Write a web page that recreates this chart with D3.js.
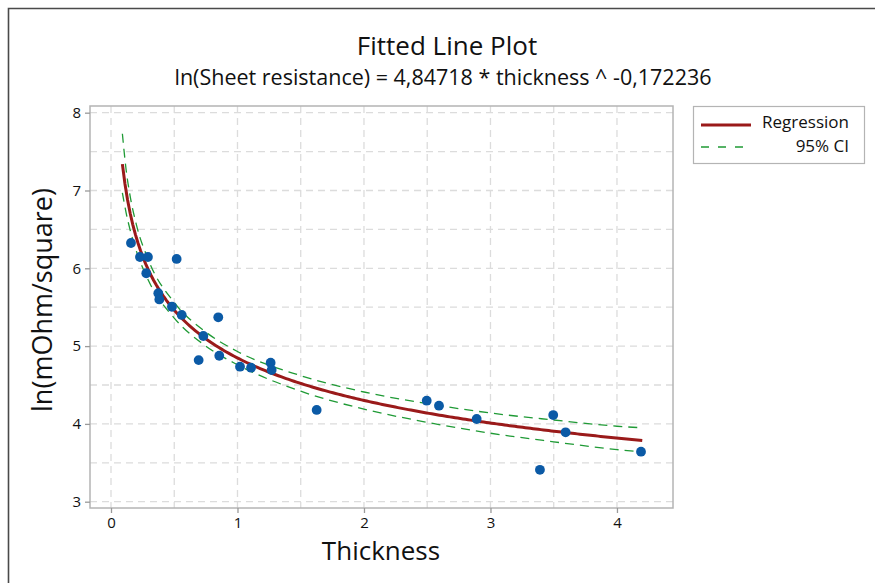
<!DOCTYPE html>
<html>
<head>
<meta charset="utf-8">
<script src="https://cdn.jsdelivr.net/npm/d3@7"></script>
<style>
  html, body { margin: 0; padding: 0; background: #fff; }
  svg { display: block; }
  text { font-family: "Open Sans", "Noto Sans", sans-serif; fill: #111; }
</style>
</head>
<body>
<svg id="chart" width="875" height="583"></svg>
<script>
// Observed thickness / ln(sheet resistance) pairs
const thickness = [0.158, 0.229, 0.292, 0.279, 0.519, 0.374, 0.382, 0.482, 0.559, 0.848,
                   0.730, 0.693, 0.856, 1.020, 1.107, 1.262, 1.270, 1.626, 2.496, 2.593,
                   2.891, 3.391, 3.496, 3.594, 4.190];
const lnResistance = [6.325, 6.145, 6.145, 5.936, 6.120, 5.679, 5.600, 5.506, 5.400, 5.370,
                      5.130, 4.820, 4.876, 4.735, 4.722, 4.787, 4.693, 4.179, 4.298, 4.234,
                      4.063, 3.410, 4.114, 3.892, 3.643];

// Fitted power model: y = a * x ^ b
const fitA = 4.84718;
const fitB = -0.172236;
const fitRange = [0.09, 4.2];

// 95% confidence band of the fit
const ciX     = [0.09, 0.12, 0.15, 0.20, 0.30, 0.50, 0.75, 1.00, 1.50, 2.00, 2.50, 3.00, 3.50, 4.00, 4.20];
const ciUpper = [7.73, 7.26, 6.94, 6.565, 6.09, 5.56, 5.18, 4.93, 4.62, 4.41, 4.26, 4.14, 4.05, 3.97, 3.95];
const ciLower = [6.97, 6.71, 6.50, 6.225, 5.83, 5.36, 5.00, 4.76, 4.42, 4.19, 4.02, 3.88, 3.77, 3.67, 3.64];

const xTicks = [0, 1, 2, 3, 4];
const yTicks = [3, 4, 5, 6, 7, 8];
const xGrid = [0, 0.5, 1, 1.5, 2, 2.5, 3, 3.5, 4];
const yGrid = [3, 3.5, 4, 4.5, 5, 5.5, 6, 6.5, 7, 7.5, 8];

const titleText = "Fitted Line Plot";
const subtitleText = "ln(Sheet resistance) = 4,84718 * thickness ^ -0,172236";
const xLabel = "Thickness";
const yLabel = "ln(mOhm/square)";
const legendItems = ["Regression", "95% CI"];

const svg = d3.select("#chart");
const plot = { left: 90, top: 106, right: 673, bottom: 508 };

const x = d3.scaleLinear().domain([-0.166, 4.443]).range([plot.left, plot.right]);
const y = d3.scaleLinear().domain([2.919, 8.086]).range([plot.bottom, plot.top]);

// Outer frame (top and left edges)
svg.append("path")
  .attr("d", "M8.5,583 L8.5,8.5 L875,8.5")
  .attr("fill", "none").attr("stroke", "#4a4a4a").attr("stroke-width", 1.6);

// Titles
svg.append("text").attr("x", 447).attr("y", 55).attr("text-anchor", "middle")
  .attr("font-size", 26).text(titleText);
svg.append("text").attr("x", 443).attr("y", 85).attr("text-anchor", "middle")
  .attr("font-size", 21.5).text(subtitleText);

// Grid
const grid = svg.append("g").attr("stroke", "#dcdcdc").attr("stroke-width", 1.3)
  .attr("stroke-dasharray", "7,5");
grid.selectAll(".gx").data(xGrid).join("line")
  .attr("x1", d => x(d)).attr("x2", d => x(d))
  .attr("y1", plot.top).attr("y2", plot.bottom);
grid.selectAll(".gy").data(yGrid).join("line")
  .attr("y1", d => y(d)).attr("y2", d => y(d))
  .attr("x1", plot.left).attr("x2", plot.right);

// Plot frame
svg.append("rect")
  .attr("x", plot.left).attr("y", plot.top)
  .attr("width", plot.right - plot.left).attr("height", plot.bottom - plot.top)
  .attr("fill", "none").attr("stroke", "#b4b4b4").attr("stroke-width", 1.5);

// Axes
const xAxis = svg.append("g").attr("transform", `translate(0,${plot.bottom})`)
  .call(d3.axisBottom(x).tickValues(xTicks).tickFormat(d3.format("d")).tickSize(5).tickPadding(4));
const yAxis = svg.append("g").attr("transform", `translate(${plot.left},0)`)
  .call(d3.axisLeft(y).tickValues(yTicks).tickFormat(d3.format("d")).tickSize(5).tickPadding(4));
[xAxis, yAxis].forEach(ax => {
  ax.select(".domain").remove();
  ax.selectAll(".tick line").attr("stroke", "#9a9a9a").attr("stroke-width", 1.3);
  ax.selectAll(".tick text").attr("font-size", 15).attr("fill", "#111")
    .style("font-family", "'Open Sans', 'Noto Sans', sans-serif");
});

// Axis titles
svg.append("text").attr("x", 381).attr("y", 560).attr("text-anchor", "middle")
  .attr("font-size", 26).text(xLabel);
svg.append("text").attr("transform", `translate(52,300) rotate(-90)`)
  .attr("text-anchor", "middle").attr("font-size", 27).text(yLabel);

const clip = svg.append("defs").append("clipPath").attr("id", "clip")
  .append("rect").attr("x", plot.left).attr("y", plot.top)
  .attr("width", plot.right - plot.left).attr("height", plot.bottom - plot.top);

const layer = svg.append("g").attr("clip-path", "url(#clip)");

// Confidence band lines
const ciLine = d3.line().curve(d3.curveMonotoneX).x(d => x(d[0])).y(d => y(d[1]));
[ciUpper, ciLower].forEach(arr => {
  layer.append("path")
    .datum(ciX.map((v, i) => [v, arr[i]]))
    .attr("d", ciLine)
    .attr("fill", "none").attr("stroke", "#1f9a35").attr("stroke-width", 1.3)
    .attr("stroke-dasharray", "9,6");
});

// Regression curve
const fitXs = d3.range(0, 201).map(i => fitRange[0] + (fitRange[1] - fitRange[0]) * i / 200);
layer.append("path")
  .datum(fitXs)
  .attr("d", d3.line().x(d => x(d)).y(d => y(fitA * Math.pow(d, fitB))))
  .attr("fill", "none").attr("stroke", "#9a1a1a").attr("stroke-width", 3);

// Data points
layer.selectAll("circle").data(thickness).join("circle")
  .attr("cx", d => x(d)).attr("cy", (d, i) => y(lnResistance[i]))
  .attr("r", 4.9).attr("fill", "#0b5aa6");

// Legend
const lg = svg.append("g");
lg.append("rect").attr("x", 693.5).attr("y", 106.5).attr("width", 171).attr("height", 57)
  .attr("fill", "#fff").attr("stroke", "#b4b4b4").attr("stroke-width", 1.2);
lg.append("line").attr("x1", 701).attr("x2", 751).attr("y1", 125).attr("y2", 125)
  .attr("stroke", "#9a1a1a").attr("stroke-width", 3);
lg.append("line").attr("x1", 701).attr("x2", 751).attr("y1", 147).attr("y2", 147)
  .attr("stroke", "#1f9a35").attr("stroke-width", 1.3).attr("stroke-dasharray", "8,9");
lg.append("text").attr("x", 849).attr("y", 128).attr("text-anchor", "end")
  .attr("font-size", 17).text(legendItems[0]);
lg.append("text").attr("x", 849).attr("y", 152).attr("text-anchor", "end")
  .attr("font-size", 17).text(legendItems[1]);
</script>
</body>
</html>
